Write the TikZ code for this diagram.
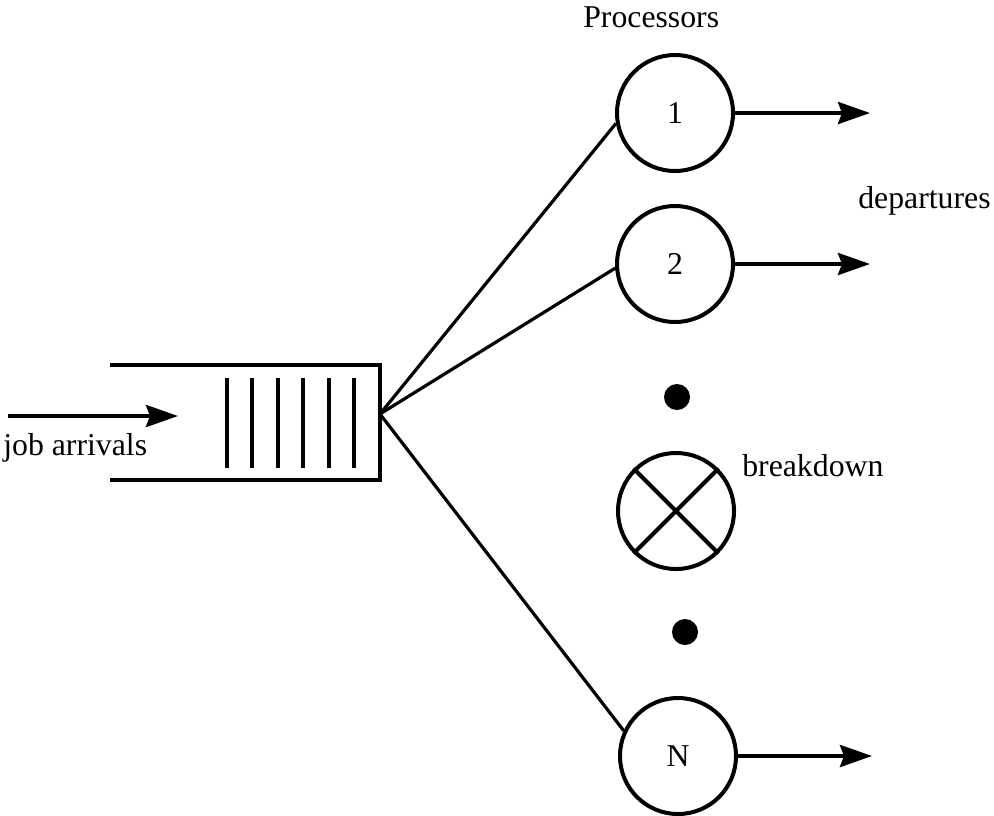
\documentclass[tikz,border=0pt]{standalone}
\usepackage{fontspec}
\setmainfont{Liberation Serif}
\usetikzlibrary{arrows.meta}

\tikzset{
  proc/.style={circle,draw,line width=1mm,minimum size=29mm,inner sep=0pt},
  flow/.style={line width=1mm,-{Stealth[length=8mm,width=5.5mm,inset=1mm]}},
  fan/.style={line width=0.8mm},
  lbl/.style={inner sep=0pt}
}

\begin{document}
\begin{tikzpicture}[x=0.25mm,y=-0.25mm,font=\fontsize{22.6}{27}\selectfont]
\useasboundingbox (0,0) rectangle (994,815);

% queue
\draw[line width=0.9mm] (110,365) -| (380,480) -- (110,480);
\foreach \x in {227,252,278,303,329,354}
  \draw[line width=0.9mm] (\x,378)--(\x,468);
\coordinate (fan) at (380,414);

% arrivals
\coordinate (in) at (8,416);
\coordinate (qin) at (178,416);
\draw[flow] (in)--(qin);
\node[lbl,anchor=base west] (arr) at (3,455) {job arrivals};

% processors
\node[proc] (p1) at (675,113) {1};
\node[proc] (p2) at (675,264) {2};
\node[proc] (pb) at (676,511) {};
\node[proc] (pN) at (678,756) {N};
\draw[line width=1mm] (pb.45)--(pb.225) (pb.135)--(pb.315);

\fill (677,397) circle (3.25mm) coordinate (dot1);
\fill (685,632) circle (3.25mm) coordinate (dot2);

\draw[fan] (fan)--(p1.190);
\draw[fan] (fan)--(p2.184);
\draw[fan] (fan)--(pN.155);

% departures
\coordinate (d1) at (870,113);
\coordinate (d2) at (870,264);
\coordinate (dN) at (872,756);
\draw[flow] (p1.east)--(d1);
\draw[flow] (p2.east)--(d2);
\draw[flow] (pN.east)--(dN);

\node[lbl,anchor=base west] (proctxt) at (583,27) {Processors};
\node[lbl,anchor=base west] (deptxt) at (858,208) {departures};
\node[lbl,anchor=base west] (brk) at (742,476) {breakdown};
\end{tikzpicture}
\end{document}
